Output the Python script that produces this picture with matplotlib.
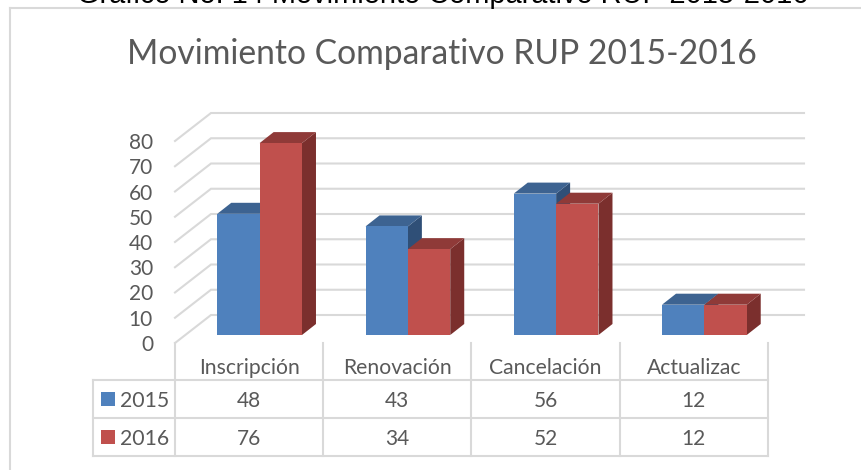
import matplotlib
matplotlib.use('Agg')
import matplotlib.pyplot as plt
from matplotlib.patches import Polygon, Rectangle

categories = ['Inscripción', 'Renovación', 'Cancelación', 'Actualizac']
years = ['2015', '2016']
values_2015 = [48, 43, 56, 12]
values_2016 = [76, 34, 52, 12]
y_ticks = [0, 10, 20, 30, 40, 50, 60, 70, 80]

W, H = 862, 470
GRID = '#d9d9d9'
TXT = '#595959'
BLUE = ('#4f81bd', '#3d6391', '#2f4f77')
RED = ('#c0504d', '#8f3a38', '#7b2f2d')

fig = plt.figure(figsize=(W / 100, H / 100), dpi=100)
plt.rcParams['font.family'] = ['Lato', 'DejaVu Sans']

# front plane of the 3d box: x 175-768 px, value 0 at y=343, value 80 at y=141
ax = fig.add_axes([175 / W, 1 - 343 / H, 593 / W, 202 / H])
ax.set_xlim(0, 4)
ax.set_ylim(0, 80)
ax.axis('off')

ux = 148.25         # px per category
uy = 2.525          # px per value unit


def to_x(px):
    return (px - 175) / ux


def to_y(py):
    return (343 - py) / uy


# chart frame + clipped caption above it
fig.add_artist(plt.Line2D([10 / W, 10 / W], [0, 1 - 8 / H], color=GRID, lw=1.5))
fig.add_artist(plt.Line2D([10 / W, 1], [1 - 8 / H, 1 - 8 / H], color=GRID, lw=1.5))
fig.text(443 / W, 1 - 3 / H, 'Gráfico No. 14 Movimiento Comparativo RUP 2015-2016',
         family='Liberation Sans', fontsize=20.9, color='black', ha='center', va='baseline')
fig.text(442 / W, 1 - 64 / H, 'Movimiento Comparativo RUP 2015-2016',
         fontsize=24.2, color=TXT, ha='center', va='baseline')

# back wall gridlines and floor side lines
wall_x = 36 / ux
wall_y = 28 / uy
for t in y_ticks:
    ax.plot([0, wall_x, 4 + wall_x], [t, t + wall_y, t + wall_y], color=GRID, lw=1.5,
            clip_on=False, zorder=1, solid_joinstyle='miter')
    ax.text(-22 / ux, t, str(t), ha='right', va='center_baseline', fontsize=15, color=TXT, clip_on=False)

# bars
bar_w = 1 / 3.5
off_x = 10.5 / ux
off_y = 8 / uy
dep_x = 14 / ux
dep_y = 11 / uy

for s, (vals, cols) in enumerate(zip([values_2015, values_2016], [BLUE, RED])):
    for i, v in enumerate(vals):
        x0 = i + 0.5 - bar_w + s * bar_w + off_x
        x1 = x0 + bar_w
        y0 = off_y
        y1 = v + off_y
        z = 3 + s
        ax.add_patch(Polygon([(x1, y0), (x1 + dep_x, y0 + dep_y), (x1 + dep_x, y1 + dep_y), (x1, y1)],
                             fc=cols[2], ec='none', clip_on=False, zorder=z))
        ax.add_patch(Polygon([(x0, y1), (x0 + dep_x, y1 + dep_y), (x1 + dep_x, y1 + dep_y), (x1, y1)],
                             fc=cols[1], ec='none', clip_on=False, zorder=z))
        ax.add_patch(Rectangle((x0, y0), bar_w, v, fc=cols[0], ec='none', clip_on=False, zorder=z + 0.5))

# data table under the plot
row_y = [to_y(380), to_y(418), to_y(456)]
for r in row_y:
    ax.plot([to_x(93), 4], [r, r], color=GRID, lw=1.5, clip_on=False, zorder=1)
for k in range(5):
    ax.plot([k, k], [0, row_y[2]], color=GRID, lw=1.5, clip_on=False, zorder=1)
ax.plot([to_x(93), to_x(93)], [row_y[0], row_y[2]], color=GRID, lw=1.5, clip_on=False, zorder=1)

for i, c in enumerate(categories):
    ax.text(i + 0.5, to_y(374), c, ha='center', va='baseline', fontsize=15.2, color=TXT, clip_on=False)
    ax.text(i + 0.5, to_y(399), str(values_2015[i]), ha='center', va='center_baseline', fontsize=15, color=TXT, clip_on=False)
    ax.text(i + 0.5, to_y(437), str(values_2016[i]), ha='center', va='center_baseline', fontsize=15, color=TXT, clip_on=False)

for k, (yr, col) in enumerate(zip(years, [BLUE[0], RED[0]])):
    yc = 399 + 38 * k
    ax.add_patch(Rectangle((to_x(101), to_y(yc + 7)), 14 / ux, 14 / uy, fc=col, ec='none', clip_on=False))
    ax.text(to_x(120), to_y(yc), yr, ha='left', va='center_baseline', fontsize=15.3, color=TXT, clip_on=False)

fig.savefig('out.png', dpi=100)
